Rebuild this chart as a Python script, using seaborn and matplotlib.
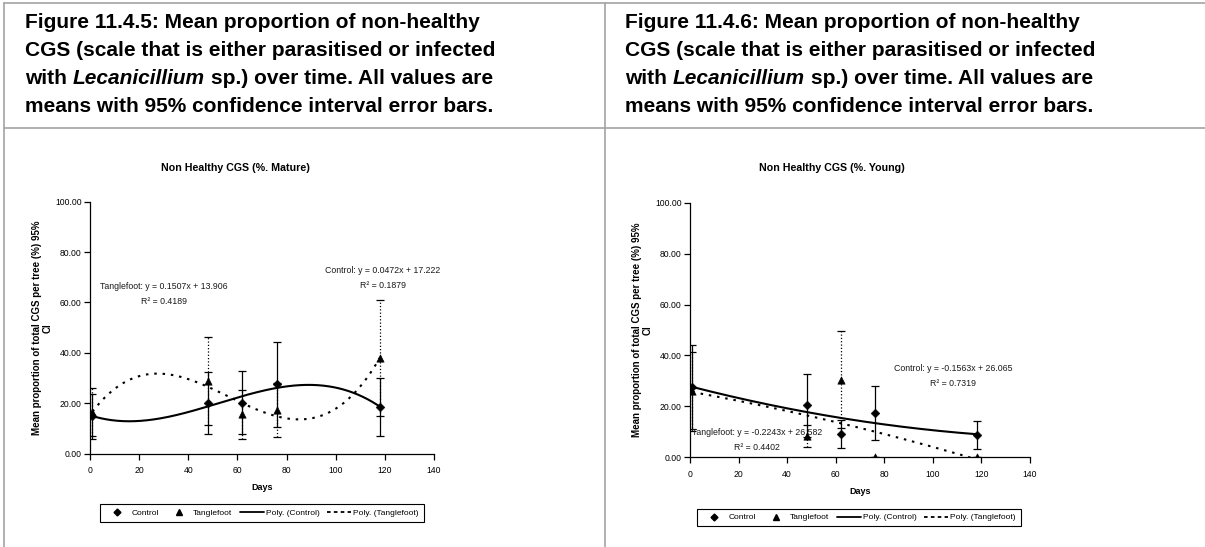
import numpy as np
import matplotlib
matplotlib.use('Agg')
import matplotlib.pyplot as plt
from matplotlib.lines import Line2D
from matplotlib.text import Annotation
import seaborn as sns

sns.set_style('ticks')
plt.rcParams['font.family'] = ['Liberation Sans', 'DejaVu Sans']
plt.rcParams['text.color'] = 'black'

# sampling days
days = [1, 48, 62, 76, 118]

# mature trees: means and 95% CI half widths
mature_control = [14.8, 20.1, 20.1, 27.5, 18.5]
mature_control_ci = [9.0, 12.4, 12.5, 16.8, 11.4]
mature_tangle = [16.5, 28.8, 15.5, 17.2, 37.9]
mature_tangle_ci = [9.7, 17.6, 9.6, 10.8, 23.0]

# young trees
young_control = [27.6, 20.4, 9.3, 17.4, 8.7]
young_control_ci = [16.6, 12.4, 5.5, 10.8, 5.6]
young_tangle = [25.9, 8.4, 30.5, 0.0, 0.0]
young_tangle_ci = [15.5, 4.2, 19.1, 0.0, 0.0]

fig_numbers = ['11.4.5', '11.4.6']
chart_titles = ['Non Healthy CGS (%. Mature)', 'Non Healthy CGS (%. Young)']
mature_eqs = ['Tanglefoot: y = 0.1507x + 13.906', 'R² = 0.4189',
              'Control: y = 0.0472x + 17.222', 'R² = 0.1879']
young_eqs = ['Control: y = -0.1563x + 26.065', 'R² = 0.7319',
             'Tanglefoot: y = -0.2243x + 26.582', 'R² = 0.4402']
ylab = 'Mean proportion of total CGS per tree (%) 95%\nCI'
legend_labels = ['Control', 'Tanglefoot', 'Poly. (Control)', 'Poly. (Tanglefoot)']

W, H = 1205, 547
fig = plt.figure(figsize=(W / 100, H / 100), dpi=100)
fig.patch.set_facecolor('white')


def fx(px):
    return px / W


def fy(py):
    return 1 - py / H


# table frame
grey = '#a3a3a3'
for (x0, y0, x1, y1) in [(4, 3, W, 3), (4, 127.5, W, 127.5), (4, 3, 4, H), (605, 3, 605, H)]:
    fig.add_artist(Line2D([fx(x0), fx(x1)], [fy(y0), fy(y1)], color=grey, lw=1.2))

# captions
FS = 15
hdr = dict(fontsize=FS, fontweight='bold', color='black', va='baseline', ha='left')
for num, x0 in zip(fig_numbers, [25, 625]):
    fig.text(fx(x0), fy(28), f'Figure {num}: Mean proportion of non-healthy', **hdr)
    fig.text(fx(x0), fy(56), 'CGS (scale that is either parasitised or infected', **hdr)
    t1 = fig.text(fx(x0), fy(84), 'with', **hdr)
    t2 = Annotation('Lecanicillium', xy=(1, 0), xycoords=t1, xytext=(4.2, 0),
                    textcoords='offset points', fontsize=FS, fontweight='bold',
                    fontstyle='italic', va='bottom', ha='left', color='black',
                    annotation_clip=False)
    fig.add_artist(t2)
    t3 = Annotation('sp.) over time. All values are', xy=(1, 0), xycoords=t2, xytext=(4.2, 0),
                    textcoords='offset points', fontsize=FS, fontweight='bold',
                    va='bottom', ha='left', color='black', annotation_clip=False)
    fig.add_artist(t3)
    fig.text(fx(x0), fy(112), 'means with 95% confidence interval error bars.', **hdr)


def panel(rect, control, control_ci, tangle, tangle_ci, deg, title, eqs, eq_pos,
          title_xy, ylab_xy, days_xy, leg_xy):
    x0, y0, x1, y1 = rect
    ax = fig.add_axes([fx(x0), fy(y1), fx(x1 - x0), (y1 - y0) / H])
    ax.set_facecolor('white')

    xs = np.linspace(days[0], days[-1], 300)
    fit_c = np.polyval(np.polyfit(days, control, deg), xs)
    fit_t = np.polyval(np.polyfit(days, tangle, deg), xs)

    ax.errorbar(days, control, yerr=control_ci, fmt='none', ecolor='k',
                elinewidth=0.9, capsize=3, capthick=0.9, zorder=2)
    eb = ax.errorbar(days, tangle, yerr=tangle_ci, fmt='none', ecolor='k',
                     elinewidth=0.9, capsize=3, capthick=0.9, zorder=2)
    eb.lines[2][0].set_linestyle(':')

    sns.lineplot(x=xs, y=fit_c, ax=ax, color='k', lw=1.5, zorder=3)
    sns.lineplot(x=xs, y=fit_t, ax=ax, color='k', lw=1.5, zorder=3)
    ax.lines[-1].set_dashes([1.2, 2.8])

    sns.scatterplot(x=days, y=control, ax=ax, marker='D', s=20, color='k',
                    edgecolor='k', zorder=4)
    sns.scatterplot(x=days, y=tangle, ax=ax, marker='^', s=28, color='k',
                    edgecolor='k', zorder=4)

    ax.set_xlim(0, 140)
    ax.set_ylim(0, 100)
    ax.set_xticks(range(0, 141, 20))
    ax.set_yticks(range(0, 101, 20))
    ax.set_yticklabels([f'{v:.2f}' for v in range(0, 101, 20)])
    ax.tick_params(labelsize=6.2, length=4, width=0.9, direction='out', colors='k')
    ax.tick_params(axis='x', pad=5)
    ax.tick_params(axis='y', pad=2)
    for s in ['top', 'right']:
        ax.spines[s].set_visible(False)
    for s in ['left', 'bottom']:
        ax.spines[s].set_linewidth(0.9)
        ax.spines[s].set_color('k')
    ax.set_xlabel('')
    ax.set_ylabel('')

    for txt, (px, py) in zip(eqs, eq_pos):
        ax.text(px, py, txt, fontsize=6.3, ha='center', va='center', color='#1a1a1a')

    fig.text(fx(title_xy[0]), fy(title_xy[1]), title, fontsize=7.7, fontweight='bold',
             ha='center', va='center')
    fig.text(fx(ylab_xy[0]), fy(ylab_xy[1]), ylab, fontsize=7, fontweight='bold',
             rotation=90, ha='center', va='center', multialignment='center', linespacing=1.1)
    fig.text(fx(days_xy[0]), fy(days_xy[1]), 'Days', fontsize=6.5, fontweight='bold',
             ha='center', va='center')

    handles = [
        Line2D([], [], marker='D', ls='none', color='k', ms=3.5),
        Line2D([], [], marker='^', ls='none', color='k', ms=4.5),
        Line2D([], [], color='k', lw=1.3),
        Line2D([], [], color='k', lw=1.3, dashes=[2, 1.8]),
    ]
    leg = ax.legend(handles, legend_labels, loc='center', ncol=4,
                    bbox_to_anchor=(fx(leg_xy[0]), fy(leg_xy[1])),
                    bbox_transform=fig.transFigure, fontsize=6, frameon=True,
                    fancybox=False, edgecolor='k', framealpha=1, borderpad=0.6,
                    handlelength=2.9, handletextpad=0.25, columnspacing=0.9)
    leg.get_frame().set_linewidth(0.8)
    return ax


panel((90, 201.7, 434, 453.5), mature_control, mature_control_ci, mature_tangle,
      mature_tangle_ci, 3, chart_titles[0], mature_eqs,
      [(30.1, 66.2), (30.1, 60.3), (119.1, 72.6), (119.1, 66.6)],
      (235, 167.7), (42, 328), (262, 487), (262, 513))

panel((690, 202.7, 1030, 457.3), young_control, young_control_ci, young_tangle,
      young_tangle_ci, 2, chart_titles[1], young_eqs,
      [(108.2, 35.0), (108.2, 29.1), (27.6, 9.7), (27.6, 3.9)],
      (832, 167.7), (642, 330), (860, 491), (859, 517.5))

fig.savefig('out.png', dpi=100, facecolor='white')
